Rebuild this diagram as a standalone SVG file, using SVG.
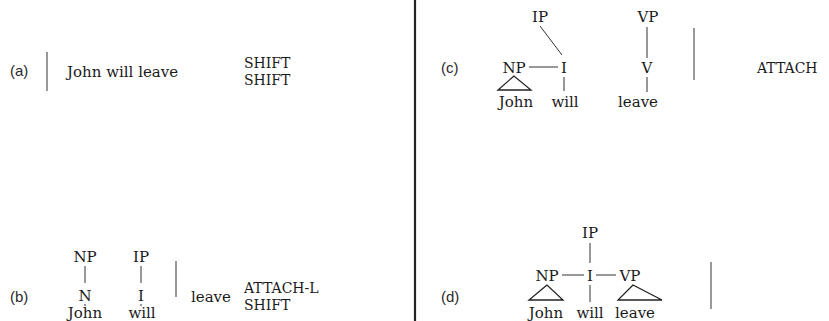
<svg xmlns="http://www.w3.org/2000/svg" width="829" height="321" viewBox="0 0 829 321">
<style>
.s{font-family:"DejaVu Serif","Liberation Serif",serif;font-size:15px;fill:#1a1a1a}
.op{font-family:"DejaVu Serif","Liberation Serif",serif;font-size:14px;fill:#1a1a1a}
.lb{font-family:"Liberation Sans",Arial,sans-serif;font-size:15px;fill:#2a2a2a}
.m{text-anchor:middle}
.ln{stroke:#333;stroke-width:1;fill:none}
.bar{stroke:#555;stroke-width:1.2;fill:none}
.tri{stroke:#222;stroke-width:1.3;fill:none;stroke-linejoin:miter}
</style>
<rect width="829" height="321" fill="#fff"/>
<line x1="415" y1="0" x2="415" y2="321" stroke="#222" stroke-width="2.2"/>

<g id="panel-a">
<text class="lb" x="10" y="76">(a)</text>
<line class="bar" x1="47" y1="52" x2="47" y2="91"/>
<text class="s" x="67" y="77">John will leave</text>
<text class="op" x="244" y="68">SHIFT</text>
<text class="op" x="244" y="85">SHIFT</text>
</g>

<g id="panel-b">
<text class="lb" x="10" y="302">(b)</text>
<g id="b-NP"><text class="s m" x="85" y="262">NP</text></g>
<g id="b-N"><text class="s m" x="85" y="301">N</text></g>
<g id="b-John"><text class="s m" x="85" y="318">John</text></g>
<g id="b-IP"><text class="s m" x="141" y="262">IP</text></g>
<g id="b-I"><text class="s m" x="141" y="301">I</text></g>
<g id="b-will"><text class="s m" x="142" y="318">will</text></g>
<line class="bar" x1="176" y1="261" x2="176" y2="297"/>
<text class="s" x="191" y="302">leave</text>
<text class="op" x="244" y="293">ATTACH-L</text>
<text class="op" x="244" y="310">SHIFT</text>
</g>

<g id="panel-c">
<text class="lb" x="441" y="73">(c)</text>
<g id="c-IP"><text class="s m" x="540" y="22">IP</text></g>
<g id="c-NP"><text class="s m" x="514" y="73">NP</text></g>
<g id="c-I"><text class="s m" x="564" y="73">I</text></g>
<g id="c-John"><text class="s m" x="516" y="107">John</text></g>
<g id="c-will"><text class="s m" x="565" y="107">will</text></g>
<g id="c-VP"><text class="s m" x="648" y="22">VP</text></g>
<g id="c-V"><text class="s m" x="647" y="73">V</text></g>
<g id="c-leave"><text class="s m" x="638" y="107">leave</text></g>
<line class="bar" x1="694" y1="28" x2="694" y2="80"/>
<text class="op" x="757" y="73">ATTACH</text>
</g>

<g id="panel-d">
<text class="lb" x="441" y="302">(d)</text>
<g id="d-IP"><text class="s m" x="590" y="238">IP</text></g>
<g id="d-NP"><text class="s m" x="547" y="281">NP</text></g>
<g id="d-I"><text class="s m" x="590" y="281">I</text></g>
<g id="d-VP"><text class="s m" x="630" y="281">VP</text></g>
<g id="d-John"><text class="s m" x="546" y="318">John</text></g>
<g id="d-will"><text class="s m" x="590" y="318">will</text></g>
<g id="d-leave"><text class="s m" x="635" y="318">leave</text></g>
<line class="bar" x1="711" y1="262" x2="711" y2="309"/>
</g>

<g id="connectors">
<line class="ln" x1="85" y1="266" x2="85" y2="283"/>
<line class="ln" x1="85" y1="304" x2="85" y2="306"/>
<line class="ln" x1="141" y1="266" x2="141" y2="283"/>
<line class="ln" x1="141" y1="304" x2="141" y2="306"/>
<line class="ln" x1="540" y1="26" x2="562" y2="55"/>
<line class="ln" x1="529" y1="67" x2="558" y2="67"/>
<line class="ln" x1="564" y1="77" x2="564" y2="91"/>
<polygon class="tri" points="514,76 498,90 531,90"/>
<line class="ln" x1="647" y1="27" x2="647" y2="58"/>
<line class="ln" x1="647" y1="77" x2="647" y2="92"/>
<line class="ln" x1="590" y1="243" x2="590" y2="263"/>
<line class="ln" x1="562" y1="275" x2="584" y2="275"/>
<line class="ln" x1="596" y1="275" x2="616" y2="275"/>
<line class="ln" x1="590" y1="285" x2="590" y2="302"/>
<polygon class="tri" points="547,285 529,300 563,300"/>
<polygon class="tri" points="633,285 618,300 662,300"/>
</g>
</svg>
